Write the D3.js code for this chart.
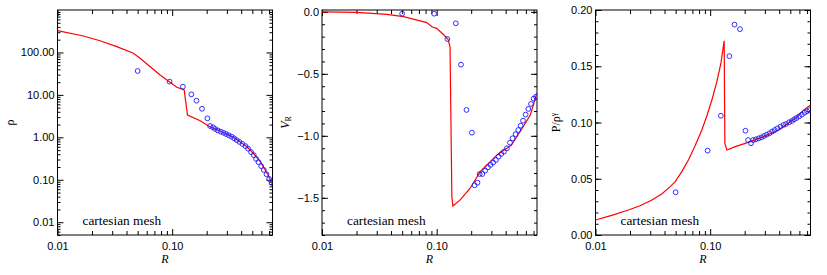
<!DOCTYPE html>
<html>
<head>
<meta charset="utf-8">
<script src="https://cdn.jsdelivr.net/npm/d3@7"></script>
<style>
  body { margin: 0; background: #fff; }
  svg { display: block; }
  .tick text { font-family: "Liberation Sans", Arial, sans-serif; font-size: 11px; fill: #000; }
  .domain { display: none; }
  .tick line { stroke: #000; stroke-width: 1; }
  .serif { font-family: "Liberation Serif", "Times New Roman", serif; }
</style>
</head>
<body>
<div id="chart"></div>
<script>
// Radii of the binned simulation points (blue circles), shared by all panels.
var circR = [0.05, 0.095, 0.124, 0.147, 0.163, 0.182, 0.203, 0.214, 0.227, 0.237,
  0.250, 0.265, 0.280, 0.295, 0.311, 0.329, 0.347, 0.366, 0.386, 0.410,
  0.436, 0.459, 0.488, 0.515, 0.540, 0.566, 0.597, 0.630, 0.665, 0.701, 0.736];

// Density panel
var rhoCirc = [36.6, 20.5, 15.6, 10.3, 7.3, 4.7, 2.8, 1.85, 1.72, 1.58,
  1.46, 1.36, 1.28, 1.20, 1.12, 1.04, 0.95, 0.86, 0.78, 0.70,
  0.62, 0.54, 0.45, 0.38, 0.31, 0.26, 0.21, 0.17, 0.135, 0.105, 0.085];
var rhoLineR = [0.01, 0.0168, 0.0235, 0.0329, 0.0459, 0.0525, 0.0785, 0.1099, 0.1273,
  0.136, 0.1757, 0.2075, 0.2624, 0.3433, 0.449, 0.51, 0.587, 0.672, 0.75];
var rhoLine = [326, 244, 189, 137, 95.5, 72.8, 29.4, 15.1, 13.0,
  3.36, 2.47, 1.85, 1.41, 1.0, 0.60, 0.42, 0.267, 0.142, 0.08];

// Radial velocity panel
var vrCirc = [-0.015, -0.015, -0.219, -0.092, -0.426, -0.791, -0.975, -1.399, -1.378, -1.308,
  -1.308, -1.281, -1.254, -1.235, -1.216, -1.195, -1.168, -1.146, -1.128, -1.100,
  -1.055, -1.020, -0.987, -0.953, -0.918, -0.878, -0.829, -0.783, -0.743, -0.700, -0.684];
var vrLineR = [0.01, 0.0201, 0.0367, 0.0513, 0.082, 0.0908, 0.0999, 0.1159, 0.1256,
  0.1308, 0.1357, 0.1387, 0.1604, 0.196, 0.2396, 0.3356, 0.4487, 0.5, 0.574, 0.656, 0.75];
var vrLine = [0.0, -0.004, -0.02, -0.039, -0.087, -0.12, -0.133, -0.187, -0.221,
  -0.281, -1.491, -1.566, -1.517, -1.423, -1.289, -1.154, -1.074, -1.007, -0.92, -0.832, -0.652];

// Entropy panel
var entCirc = [0.038, 0.075, 0.106, 0.159, 0.187, 0.183, 0.0927, 0.0844, 0.0815, 0.0844,
  0.0850, 0.0859, 0.0868, 0.0880, 0.0892, 0.0904, 0.0919, 0.0933, 0.0948, 0.0963,
  0.0978, 0.0987, 0.1002, 0.1013, 0.1028, 0.1040, 0.1055, 0.1070, 0.1087, 0.1100, 0.1110];
var entLineR = [0.01, 0.01384, 0.01935, 0.02447, 0.031, 0.03784, 0.0448, 0.0496, 0.05655,
  0.0646, 0.0739, 0.0846, 0.0935, 0.1035, 0.1144, 0.124, 0.1325,
  0.1343, 0.14, 0.1653, 0.202, 0.2828, 0.395, 0.552, 0.653, 0.75];
var entLine = [0.0133, 0.0175, 0.0222, 0.026, 0.0311, 0.0364, 0.043, 0.0474, 0.0563,
  0.0667, 0.0794, 0.0933, 0.1058, 0.12, 0.1363, 0.1526, 0.1727,
  0.0815, 0.0756, 0.0785, 0.0815, 0.0868, 0.0933, 0.1037, 0.111, 0.1156];

var xDomain = [0.01, 0.75];
var xMajor = [0.01, 0.1];
var xMinor = [0.02, 0.03, 0.04, 0.05, 0.06, 0.07, 0.08, 0.09, 0.2, 0.3, 0.4, 0.5, 0.6, 0.7];

var width = 827, height = 275;
var svg = d3.select("#chart").append("svg")
    .attr("width", width)
    .attr("height", height);

// Panel frame size and top offset
var pw = 215, ph = 225, plotTop = 10;

function logMinors(lo, hi) {
  var out = [];
  for (var e = -3; e <= 3; e++) {
    for (var m = 2; m <= 9; m++) {
      var v = m * Math.pow(10, e);
      if (v >= lo && v <= hi) out.push(v);
    }
  }
  return out;
}

var panels = [
  { left: 57.5, ylog: true, domain: [0.005, 1000],
    major: [0.01, 0.1, 1, 10, 100], fmt: d3.format(".2f"),
    minor: logMinors(0.005, 1000),
    cR: circR, cV: rhoCirc, lR: rhoLineR, lV: rhoLine, title: "rho", tx: 10 },
  { left: 322, ylog: false, domain: [-1.8, 0.015],
    major: [0, -0.5, -1.0, -1.5], fmt: d3.format(".1f"),
    minor: d3.range(-18, 1).map(function(i) { return i / 10; }),
    cR: circR, cV: vrCirc, lR: vrLineR, lV: vrLine, title: "vr", tx: 285 },
  { left: 595.5, ylog: false, domain: [0, 0.2],
    major: [0, 0.05, 0.1, 0.15, 0.2], fmt: d3.format(".2f"),
    minor: d3.range(0, 21).map(function(i) { return i / 100; }),
    cR: circR, cV: entCirc, lR: entLineR, lV: entLine, title: "ent", tx: 556 }
];

panels.forEach(function(p) {
  var g = svg.append("g").attr("transform", "translate(" + p.left + "," + plotTop + ")");

  var x = d3.scaleLog().domain(xDomain).range([0, pw]);
  var y = (p.ylog ? d3.scaleLog() : d3.scaleLinear()).domain(p.domain).range([ph, 0]);

  var clipId = "clip-" + p.title;
  g.append("clipPath").attr("id", clipId)
    .append("rect").attr("width", pw).attr("height", ph);

  // x axes, bottom with labels, top without. Ticks point inward.
  g.append("g").attr("transform", "translate(0," + ph + ")")
    .call(d3.axisBottom(x).tickValues(xMajor).tickSize(-6).tickPadding(7)
      .tickFormat(d3.format(".2f")));
  g.append("g").attr("transform", "translate(0," + ph + ")")
    .call(d3.axisBottom(x).tickValues(xMinor).tickSize(-4).tickFormat(""));
  g.append("g")
    .call(d3.axisTop(x).tickValues(xMajor).tickSize(-6).tickFormat(""));
  g.append("g")
    .call(d3.axisTop(x).tickValues(xMinor).tickSize(-4).tickFormat(""));

  // y axes
  g.append("g")
    .call(d3.axisLeft(y).tickValues(p.major).tickSize(-6).tickPadding(3).tickFormat(p.fmt));
  g.append("g")
    .call(d3.axisLeft(y).tickValues(p.minor).tickSize(-3).tickFormat(""));
  g.append("g").attr("transform", "translate(" + pw + ",0)")
    .call(d3.axisRight(y).tickValues(p.major).tickSize(-6).tickFormat(""));
  g.append("g").attr("transform", "translate(" + pw + ",0)")
    .call(d3.axisRight(y).tickValues(p.minor).tickSize(-3).tickFormat(""));

  // frame
  g.append("rect")
    .attr("width", pw).attr("height", ph)
    .attr("fill", "none").attr("stroke", "#000").attr("stroke-width", 1);

  var data = g.append("g").attr("clip-path", "url(#" + clipId + ")");

  var line = d3.line()
    .x(function(d) { return x(d[0]); })
    .y(function(d) { return y(d[1]); });
  data.append("path")
    .datum(d3.zip(p.lR, p.lV))
    .attr("d", line)
    .attr("fill", "none")
    .attr("stroke", "#ff0000")
    .attr("stroke-width", 1.2);

  data.selectAll("circle")
    .data(d3.zip(p.cR, p.cV))
    .enter().append("circle")
    .attr("cx", function(d) { return x(d[0]); })
    .attr("cy", function(d) { return y(d[1]); })
    .attr("r", 2.4)
    .attr("fill", "none")
    .attr("stroke", "#1a1aff")
    .attr("stroke-width", 0.9);

  // annotation
  g.append("text")
    .attr("class", "serif")
    .attr("x", 25).attr("y", ph - 10)
    .style("font-size", "13.3px")
    .text("cartesian mesh");

  // x title
  g.append("text")
    .attr("class", "serif")
    .attr("x", pw / 2).attr("y", ph + 28)
    .attr("text-anchor", "middle")
    .style("font-style", "italic")
    .style("font-size", "12px")
    .text("R");

  // y title
  var t = svg.append("text")
    .attr("class", "serif")
    .attr("transform", "translate(" + p.tx + "," + (plotTop + ph / 2) + ") rotate(-90)")
    .attr("text-anchor", "middle")
    .attr("dy", "0.35em")
    .style("font-size", "12px");
  if (p.title === "rho") {
    t.text("\u03c1");
  } else if (p.title === "vr") {
    t.append("tspan").style("font-style", "italic").text("V");
    t.append("tspan").attr("font-size", "8px").attr("dy", "2").text("R");
  } else {
    t.append("tspan").text("P/\u03c1");
    t.append("tspan").attr("font-size", "8px").attr("dy", "-4").text("\u03b3");
  }
});
</script>
</body>
</html>
